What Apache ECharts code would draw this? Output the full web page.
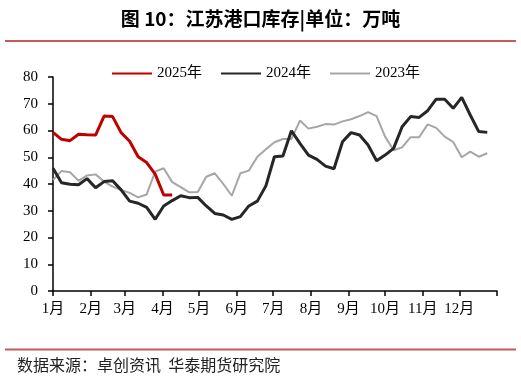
<!DOCTYPE html>
<html>
<head>
<meta charset="utf-8">
<script src="https://cdn.jsdelivr.net/npm/echarts@6/dist/echarts.min.js"></script>
<style>
html,body{margin:0;padding:0;background:#fff;}
#chart{width:521px;height:379px;}
</style>
</head>
<body>
<div id="chart"></div>
<script>
// Weekly observation dates (month-day)
var dates = ['01-01','01-08','01-15','01-22','01-29','02-05','02-12','02-19','02-26','03-05','03-12','03-19','03-26',
  '04-02','04-09','04-16','04-23','04-30','05-07','05-14','05-21','05-28','06-04','06-11','06-18','06-25',
  '07-02','07-09','07-16','07-23','07-30','08-06','08-13','08-20','08-27','09-03','09-10','09-17','09-24',
  '10-01','10-08','10-15','10-22','10-29','11-05','11-12','11-19','11-26','12-03','12-10','12-17','12-24'];

var values2025 = [59.3,56.7,56.2,58.6,58.4,58.3,65.4,65.2,59.2,56.0,50.2,48.0,43.7,35.9,35.9];
var values2024 = [45.9,40.5,39.9,39.7,42.0,38.6,40.9,41.2,37.8,33.6,32.8,31.3,26.8,31.8,33.8,35.6,34.9,35.0,31.8,29.0,28.4,26.8,27.8,31.8,33.6,39.3,
  50.2,50.5,59.9,55.2,50.8,49.2,46.7,45.7,55.8,59.2,58.3,54.6,48.7,50.8,53.3,61.4,65.2,64.9,67.4,71.7,71.7,68.3,72.4,65.8,59.6,59.3];
var values2023 = [41.5,44.9,44.4,41.2,43.2,43.6,40.9,39.0,37.8,36.7,35.0,36.1,44.6,45.9,40.7,38.8,36.9,37.0,42.7,44.0,40.0,35.6,44.0,45.0,50.2,53.0,
  55.6,56.8,56.8,63.7,60.7,61.4,62.4,62.2,63.4,64.2,65.4,66.9,65.4,57.7,52.6,53.7,57.5,57.5,62.3,61.0,57.7,55.7,50.0,52.1,50.2,51.5];

var monthStarts = ['01-01','02-01','03-01','04-01','05-01','06-01','07-01','08-01','09-01','10-01','11-01','12-01'];
var monthLabels = ['1月','2月','3月','4月','5月','6月','7月','8月','9月','10月','11月','12月'];
var yearEnd = 365;

function doy(md){
  var p = md.split('-');
  return (Date.UTC(2021, +p[0]-1, +p[1]) - Date.UTC(2021,0,1)) / 86400000;
}
function build(vals){ return vals.map(function(v,i){ return [doy(dates[i]), v]; }); }

var monthPos = monthStarts.map(doy);
var labelMap = {};
monthPos.forEach(function(p,i){ labelMap[p] = monthLabels[i]; });

var serif = "'Liberation Serif','Times New Roman','Noto Sans CJK SC',serif";

var chart = echarts.init(document.getElementById('chart'), null, {renderer:'canvas'});
chart.setOption({
  animation:false,
  backgroundColor:'#fff',
  title:{
    text:'图 10：江苏港口库存|单位：万吨',
    left:'center', top:4,
    textStyle:{fontFamily:"'Noto Sans CJK SC',sans-serif", fontWeight:'bold', fontSize:19, color:'#000'}
  },
  graphic:[
    {type:'line', shape:{x1:5,y1:41,x2:516,y2:41}, style:{stroke:'#C55A5A', lineWidth:2}},
    {type:'line', shape:{x1:5,y1:349.5,x2:516,y2:349.5}, style:{stroke:'#C55A5A', lineWidth:2}},
    {type:'text', left:17, top:357, style:{text:'数据来源：卓创资讯  华泰期货研究院', font:"16px 'Noto Sans CJK SC',sans-serif", fill:'#222'}}
  ],
  legend:{
    data:['2025年','2024年','2023年'],
    left:106, top:61,
    itemWidth:40, itemHeight:14, itemGap:18,
    itemStyle:{opacity:0},
    textStyle:{fontFamily:serif, fontSize:15, color:'#000'}
  },
  grid:{left:53, right:24, top:77, bottom:88},
  xAxis:{
    type:'value', min:0, max:yearEnd,
    axisLine:{show:true, lineStyle:{color:'#000', width:1.5}},
    axisTick:{show:true, length:5, lineStyle:{color:'#000', width:1.5}, customValues: monthPos.concat([yearEnd])},
    axisLabel:{customValues: monthPos, margin:11, fontFamily:serif, fontSize:15, color:'#000',
      formatter:function(v){ return labelMap[v] || ''; }},
    splitLine:{show:false}
  },
  yAxis:{
    type:'value', min:0, max:80, interval:10,
    axisLine:{show:true, lineStyle:{color:'#000', width:1.5}},
    axisTick:{show:true, length:5, lineStyle:{color:'#000', width:1.5}},
    axisLabel:{margin:15, fontFamily:serif, fontSize:15, color:'#000'},
    splitLine:{show:false}
  },
  series:[
    {name:'2023年', type:'line', data:build(values2023), symbol:'none', lineStyle:{color:'#A6A6A6', width:2}, itemStyle:{color:'#A6A6A6'}, z:1},
    {name:'2024年', type:'line', data:build(values2024), symbol:'none', lineStyle:{color:'#262626', width:3}, itemStyle:{color:'#262626'}, z:2},
    {name:'2025年', type:'line', data:build(values2025), symbol:'none', lineStyle:{color:'#C00000', width:3}, itemStyle:{color:'#C00000'}, z:3}
  ]
});
</script>
</body>
</html>
